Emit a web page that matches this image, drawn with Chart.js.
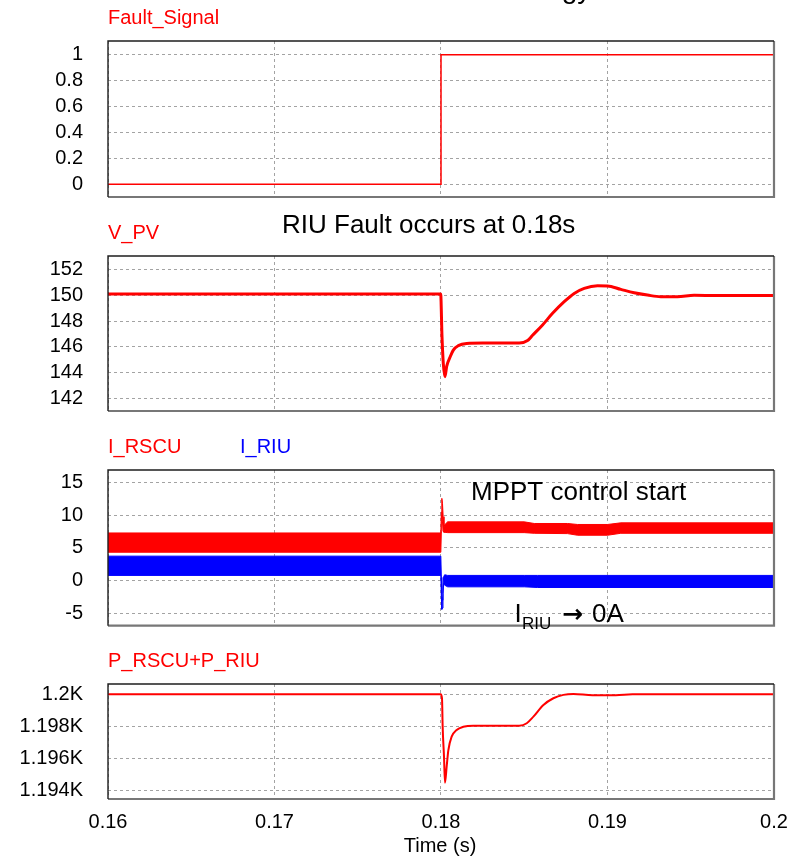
<!DOCTYPE html>
<html>
<head>
<meta charset="utf-8">
<script src="https://cdn.jsdelivr.net/npm/chart.js@4.4.1/dist/chart.umd.min.js"></script>
<style>
  html, body { margin: 0; padding: 0; background: #fff; }
  #wrap { position: relative; width: 801px; height: 857px; overflow: hidden; background: #fff; }
  #wrap canvas { position: absolute; left: 0; top: 0; }
</style>
</head>
<body>
<div id="wrap">
  <canvas id="c1" width="801" height="857"></canvas>
  <canvas id="c2" width="801" height="857"></canvas>
  <canvas id="c3" width="801" height="857"></canvas>
  <canvas id="c4" width="801" height="857"></canvas>
</div>
<script>
// ---- time axis ----
const timeTicks = [0.16, 0.17, 0.18, 0.19, 0.2];
const timeTickLabels = ['0.16', '0.17', '0.18', '0.19', '0.2'];

// ---- Fault_Signal ----
const faultT = [0.16, 0.18, 0.18, 0.2];
const faultV = [0, 0, 1, 1];
const faultTicks = [0, 0.2, 0.4, 0.6, 0.8, 1];
const faultTickLabels = ['0', '0.2', '0.4', '0.6', '0.8', '1'];

// ---- V_PV ----
const vpvT = [0.16, 0.17998, 0.18006, 0.18014, 0.18024, 0.18034, 0.18054, 0.18074, 0.18104, 0.18154,
              0.1825, 0.1847, 0.1852, 0.1855, 0.1861, 0.1867, 0.1874, 0.1880, 0.1886, 0.1894,
              0.1900, 0.1908, 0.1916, 0.1924, 0.1932, 0.1942, 0.1952, 0.1966, 0.2];
const vpvV = [150.1, 150.1, 146.8, 144.7, 143.7, 144.5, 145.2, 145.76, 146.1, 146.27,
              146.3, 146.3, 146.5, 146.9, 147.7, 148.6, 149.5, 150.14, 150.53, 150.73,
              150.72, 150.45, 150.19, 150.01, 149.88, 149.88, 149.99, 149.97, 149.97];
const vpvTicks = [142, 144, 146, 148, 150, 152];
const vpvTickLabels = ['142', '144', '146', '148', '150', '152'];

// ---- I_RSCU / I_RIU (ripple envelopes: upper and lower edge) ----
const rscuT  = [0.16, 0.17999, 0.18002, 0.18005, 0.18009, 0.18013, 0.18018, 0.18024, 0.1804,
                0.1850, 0.1856, 0.1876, 0.1882, 0.1900, 0.1908, 0.2];
const rscuHi = [7.3, 7.3, 10.5, 12.6, 11.8, 9.8, 8.3, 8.6, 9.0,
                9.0, 8.75, 8.75, 8.6, 8.6, 8.85, 8.85];
const rscuLo = [4.35, 4.35, 7.5, 10.0, 9.0, 7.6, 7.4, 7.4, 7.35,
                7.35, 7.25, 7.2, 6.95, 6.95, 7.25, 7.25];
const riuT   = [0.16, 0.17999, 0.18002, 0.18005, 0.18008, 0.18012, 0.18016, 0.18022, 0.1804,
                0.1850, 0.1858, 0.2];
const riuHi  = [3.75, 3.75, 0.5, -2.0, -3.0, -1.0, 0.6, 0.9, 0.8, 0.8, 0.8, 0.8];
const riuLo  = [0.8, 0.8, -2.5, -4.4, -4.2, -2.0, -0.4, -0.7, -0.95, -0.95, -1.05, -1.05];
const curTicks = [-5, 0, 5, 10, 15];
const curTickLabels = ['-5', '0', '5', '10', '15'];

// ---- P_RSCU+P_RIU ----
const pT = [0.16, 0.17998, 0.18006, 0.1801, 0.18018, 0.18024, 0.18034, 0.18044, 0.18064, 0.18094,
            0.18134, 0.18194, 0.1847, 0.18515, 0.18555, 0.18615, 0.18675, 0.18735, 0.18795,
            0.1891, 0.1905, 0.1915, 0.2];
const pV = [1200, 1200, 1199.75, 1197.97, 1196.1, 1194.48, 1195.48, 1196.5, 1197.35, 1197.77,
            1197.97, 1198.04, 1198.04, 1198.19, 1198.6, 1199.33, 1199.75, 1199.96, 1200.02,
            1199.94, 1199.94, 1200, 1200];
const pTicks = [1194, 1196, 1198, 1200];
const pTickLabels = ['1.194K', '1.196K', '1.198K', '1.2K'];

const FONT = '"Liberation Sans", Arial, Helvetica, sans-serif';
const RED = '#ff0000';
const BLUE = '#0000ff';
const GRID = '#a3a3a3';

const pts = (t, v) => t.map((x, i) => ({ x, y: v[i] }));

// Frame, panel captions and free text
function decor(titles, notes) {
  return {
    id: 'decor',
    afterDraw(chart) {
      const { ctx, chartArea: a } = chart;
      ctx.save();
      ctx.setLineDash([]);
      ctx.lineWidth = 2.2;
      ctx.strokeStyle = '#777777';
      ctx.beginPath();
      ctx.moveTo(a.right, a.top);
      ctx.lineTo(a.right, a.bottom);
      ctx.lineTo(a.left, a.bottom);
      ctx.stroke();
      ctx.lineWidth = 1.4;
      ctx.strokeStyle = '#1e1e1e';
      ctx.beginPath();
      ctx.moveTo(a.left, a.bottom);
      ctx.lineTo(a.left, a.top);
      ctx.lineTo(a.right, a.top);
      ctx.stroke();

      ctx.textBaseline = 'alphabetic';
      ctx.textAlign = 'left';
      ctx.font = '20px ' + FONT;
      titles.forEach(t => {
        ctx.fillStyle = t.color;
        ctx.fillText(t.text, a.left + t.dx, a.top - 17);
      });
      notes.forEach(n => {
        ctx.font = (n.weight || '') + ' ' + n.size + 'px ' + (n.family || FONT);
        ctx.fillStyle = n.color || '#000';
        ctx.textAlign = n.align || 'left';
        ctx.fillText(n.text, n.x, n.y);
      });
      ctx.restore();
    }
  };
}

function yAxis(min, max, ticks, labels) {
  return {
    type: 'linear',
    min, max,
    afterFit: s => { s.width = 108; },
    afterBuildTicks: s => { s.ticks = ticks.map(v => ({ value: v })); },
    grid: { color: GRID, lineWidth: 1, drawTicks: false },
    border: { display: false, dash: [3, 3] },
    ticks: {
      padding: 25,
      color: '#000',
      font: { family: FONT, size: 20 },
      callback: (v, i) => labels[i]
    }
  };
}

function xAxis(bottomPanel) {
  return {
    type: 'linear',
    min: 0.16, max: 0.2,
    afterFit: s => { s.height = bottomPanel ? 58 : 0; },
    afterBuildTicks: s => { s.ticks = timeTicks.map(v => ({ value: v })); },
    grid: { color: GRID, lineWidth: 1, drawTicks: false },
    border: { display: false, dash: [3, 3] },
    ticks: {
      display: bottomPanel,
      autoSkip: false,
      maxRotation: 0,
      padding: 11,
      color: '#000',
      font: { family: FONT, size: 20 },
      callback: (v, i) => timeTickLabels[i]
    }
  };
}

function panel(id, top, bottom, last, datasets, y, titles, notes) {
  return new Chart(document.getElementById(id), {
    type: 'line',
    data: { datasets },
    options: {
      responsive: false,
      animation: false,
      devicePixelRatio: 1,
      layout: { padding: { top, bottom: last ? 0 : 857 - bottom, left: 0, right: 27 } },
      plugins: { legend: { display: false }, tooltip: { enabled: false }, title: { display: false } },
      elements: { point: { radius: 0 }, line: { tension: 0 } },
      scales: { x: xAxis(last), y }
    },
    plugins: [decor(titles, notes)]
  });
}

// Fault_Signal
panel('c1', 41, 197, false,
  [{ data: pts(faultT, faultV), borderColor: RED, borderWidth: 1.5, fill: false }],
  yAxis(-0.098, 1.106, faultTicks, faultTickLabels),
  [{ text: 'Fault_Signal', color: RED, dx: 0 }],
  [{ text: 'Strategy', size: 28, x: 487, y: -2.4 }]
);

// V_PV
panel('c2', 256, 411, false,
  [{ data: pts(vpvT, vpvV), borderColor: RED, borderWidth: 3, fill: false, cubicInterpolationMode: 'monotone' }],
  yAxis(141.05, 153.03, vpvTicks, vpvTickLabels),
  [{ text: 'V_PV', color: RED, dx: 0 }],
  [{ text: 'RIU Fault occurs at 0.18s', size: 26, x: 282, y: 233 }]
);

// I_RSCU and I_RIU
panel('c3', 470, 625.7, false,
  [
    { data: pts(rscuT, rscuHi), borderColor: RED, backgroundColor: RED, borderWidth: 1, fill: '+1' },
    { data: pts(rscuT, rscuLo), borderColor: RED, borderWidth: 1, fill: false },
    { data: pts(riuT, riuHi), borderColor: BLUE, backgroundColor: BLUE, borderWidth: 1, fill: '+1' },
    { data: pts(riuT, riuLo), borderColor: BLUE, borderWidth: 1, fill: false }
  ],
  yAxis(-6.9, 16.94, curTicks, curTickLabels),
  [{ text: 'I_RSCU', color: RED, dx: 0 }, { text: 'I_RIU', color: BLUE, dx: 132 }],
  [
    { text: 'MPPT control start', size: 26, x: 471, y: 500 },
    { text: 'I', size: 26, x: 514.5, y: 622 },
    { text: 'RIU', size: 17, x: 522, y: 629 },
    { text: '\u2192', size: 25, x: 562, y: 622, weight: 'bold', family: '"DejaVu Sans", sans-serif' },
    { text: '0A', size: 26, x: 592, y: 622 }
  ]
);

// P_RSCU+P_RIU
panel('c4', 684, 799, true,
  [{ data: pts(pT, pV), borderColor: RED, borderWidth: 2, fill: false, cubicInterpolationMode: 'monotone' }],
  yAxis(1193.46, 1200.64, pTicks, pTickLabels),
  [{ text: 'P_RSCU+P_RIU', color: RED, dx: 0 }],
  [{ text: 'Time (s)', size: 20, x: 440, y: 852, align: 'center' }]
);
</script>
</body>
</html>
